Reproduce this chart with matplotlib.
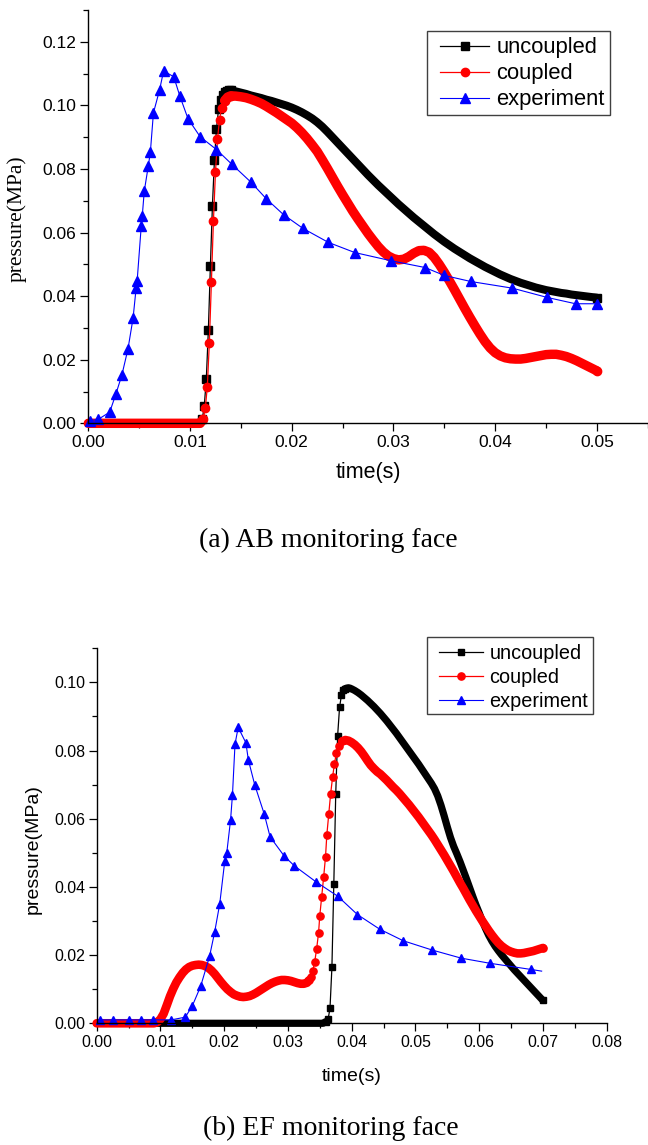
import matplotlib.pyplot as plt
from matplotlib.patches import Rectangle
from matplotlib.ticker import MultipleLocator, FormatStrFormatter

# ---------------- (a) AB monitoring face ----------------
ab_unc_t = [0.0, 0.0005, 0.001, 0.0015, 0.002, 0.0025, 0.003, 0.0035, 0.004, 0.0045, 0.005, 0.0055,
            0.006, 0.0065, 0.007, 0.0075, 0.008, 0.0085, 0.009, 0.0095, 0.01, 0.0105, 0.011,
            0.0112, 0.0114, 0.0116, 0.0118, 0.012, 0.0122, 0.0124, 0.0126, 0.0128, 0.013, 0.0132,
            0.0134, 0.0136, 0.0138, 0.014,
            0.0145, 0.015, 0.0155, 0.016, 0.0165, 0.017, 0.0175, 0.018, 0.0185, 0.019, 0.0195, 0.02,
            0.0205, 0.021, 0.0215, 0.022, 0.0225, 0.023, 0.0235, 0.024, 0.0245, 0.025,
            0.0255, 0.026, 0.0265, 0.027, 0.0275, 0.028, 0.0285, 0.029, 0.0295, 0.03,
            0.0305, 0.031, 0.0315, 0.032, 0.0325, 0.033, 0.0335, 0.034, 0.0345, 0.035,
            0.0355, 0.036, 0.0365, 0.037, 0.0375, 0.038, 0.0385, 0.039, 0.0395, 0.04,
            0.0405, 0.041, 0.0415, 0.042, 0.0425, 0.043, 0.0435, 0.044, 0.0445, 0.045,
            0.0455, 0.046, 0.0465, 0.047, 0.0475, 0.048, 0.0485, 0.049, 0.0495, 0.05]
ab_unc_p = [0.0, 0.0, 0.0, 0.0, 0.0, 0.0, 0.0, 0.0, 0.0, 0.0, 0.0, 0.0,
            0.0, 0.0, 0.0, 0.0, 0.0, 0.0, 0.0, 0.0, 0.0, 0.0, 0.0,
            0.0012, 0.0055, 0.0139, 0.0292, 0.0494, 0.0683, 0.0829, 0.0926, 0.0987, 0.1018, 0.1034,
            0.1042, 0.1046, 0.1048, 0.1047,
            0.1044, 0.1040, 0.1036, 0.1031, 0.1027, 0.1023, 0.1018, 0.1014, 0.1009, 0.1004, 0.0999, 0.0993,
            0.0986, 0.0978, 0.0969, 0.0959, 0.0947, 0.0933, 0.0917, 0.0900, 0.0883, 0.0866,
            0.0849, 0.0832, 0.0815, 0.0798, 0.0781, 0.0765, 0.0749, 0.0734, 0.0719, 0.0704,
            0.0689, 0.0675, 0.0661, 0.0647, 0.0634, 0.0621, 0.0608, 0.0595, 0.0583, 0.0571,
            0.0560, 0.0549, 0.0539, 0.0529, 0.0519, 0.0510, 0.0501, 0.0492, 0.0484, 0.0476,
            0.0468, 0.0461, 0.0454, 0.0448, 0.0442, 0.0437, 0.0432, 0.0427, 0.0423, 0.0419,
            0.0416, 0.0413, 0.0410, 0.0408, 0.0405, 0.0403, 0.0401, 0.0399, 0.0397, 0.0395]

ab_cou_t = [0.0, 0.0005, 0.001, 0.0015, 0.002, 0.0025, 0.003, 0.0035, 0.004, 0.0045, 0.005, 0.0055,
            0.006, 0.0065, 0.007, 0.0075, 0.008, 0.0085, 0.009, 0.0095, 0.01, 0.0105, 0.011,
            0.0113, 0.0115, 0.0117, 0.0119, 0.0121, 0.0123, 0.0125, 0.0127, 0.0129, 0.0131,
            0.0134, 0.0137, 0.014,
            0.0145, 0.015, 0.0155, 0.016, 0.0165, 0.017, 0.0175, 0.018, 0.0185, 0.019, 0.0195, 0.02,
            0.0205, 0.021, 0.0215, 0.022, 0.0225, 0.023, 0.0235, 0.024, 0.0245, 0.025,
            0.0255, 0.026, 0.0265, 0.027, 0.0275, 0.028, 0.0285, 0.029, 0.0295, 0.03,
            0.0305, 0.031, 0.0315, 0.032, 0.0325, 0.033, 0.0335, 0.034, 0.0345, 0.035,
            0.0355, 0.036, 0.0365, 0.037, 0.0375, 0.038, 0.0385, 0.039, 0.0395, 0.04,
            0.0405, 0.041, 0.0415, 0.042, 0.0425, 0.043, 0.0435, 0.044, 0.0445, 0.045,
            0.0455, 0.046, 0.0465, 0.047, 0.0475, 0.048, 0.0485, 0.049, 0.0495, 0.05]
ab_cou_p = [0.0, 0.0, 0.0, 0.0, 0.0, 0.0, 0.0, 0.0, 0.0, 0.0, 0.0, 0.0,
            0.0, 0.0, 0.0, 0.0, 0.0, 0.0, 0.0, 0.0, 0.0, 0.0, 0.0,
            0.0013, 0.0047, 0.0115, 0.0254, 0.0444, 0.0637, 0.0790, 0.0894, 0.0955, 0.0992,
            0.1015, 0.1026, 0.1030,
            0.1029, 0.1027, 0.1024, 0.1019, 0.1013, 0.1006, 0.0997, 0.0987, 0.0977, 0.0966, 0.0955, 0.0944,
            0.0930, 0.0914, 0.0896, 0.0876, 0.0855, 0.0829, 0.0802, 0.0774, 0.0746, 0.0719,
            0.0693, 0.0667, 0.0643, 0.0620, 0.0597, 0.0576, 0.0556, 0.0539, 0.0526, 0.0518,
            0.0514, 0.0516, 0.0524, 0.0535, 0.0543, 0.0544, 0.0538, 0.0522, 0.0500, 0.0475,
            0.0448, 0.0420, 0.0391, 0.0362, 0.0334, 0.0307, 0.0281, 0.0257, 0.0237, 0.0222,
            0.0212, 0.0206, 0.0203, 0.0202, 0.0202, 0.0204, 0.0207, 0.0210, 0.0213, 0.0216,
            0.0217, 0.0217, 0.0214, 0.0210, 0.0204, 0.0197, 0.0189, 0.0181, 0.0173, 0.0165]

ab_exp_t = [0.0002, 0.001, 0.0021, 0.0027, 0.0033, 0.0039, 0.0044, 0.0047, 0.0048, 0.0052, 0.0053,
            0.0055, 0.0059, 0.0061, 0.0064, 0.007, 0.0074, 0.0084, 0.009, 0.0098, 0.011, 0.0126,
            0.0141, 0.016, 0.0175, 0.0192, 0.0211, 0.0236, 0.0262, 0.0298, 0.0331, 0.035, 0.0376,
            0.0417, 0.0451, 0.0479, 0.05]
ab_exp_p = [0.0008, 0.0013, 0.0035, 0.0091, 0.0152, 0.0234, 0.0331, 0.0425, 0.0448, 0.0619, 0.0651,
            0.0730, 0.0810, 0.0853, 0.0976, 0.1048, 0.1108, 0.1090, 0.1029, 0.0958, 0.0901, 0.0861,
            0.0815, 0.0758, 0.0706, 0.0656, 0.0613, 0.0569, 0.0537, 0.0511, 0.0490, 0.0465, 0.0446,
            0.0425, 0.0396, 0.0376, 0.0376]

# ---------------- (b) EF monitoring face ----------------
ef_unc_t = [0.0, 0.0005, 0.001, 0.0015, 0.002, 0.0025, 0.003, 0.0035, 0.004, 0.0045,
            0.005, 0.0055, 0.006, 0.0065, 0.007, 0.0075, 0.008, 0.0085, 0.009, 0.0095,
            0.01, 0.0105, 0.011, 0.0115, 0.012, 0.0125, 0.013, 0.0135, 0.014, 0.0145,
            0.015, 0.0155, 0.016, 0.0165, 0.017, 0.0175, 0.018, 0.0185, 0.019, 0.0195,
            0.02, 0.0205, 0.021, 0.0215, 0.022, 0.0225, 0.023, 0.0235, 0.024, 0.0245,
            0.025, 0.0255, 0.026, 0.0265, 0.027, 0.0275, 0.028, 0.0285, 0.029, 0.0295,
            0.03, 0.0305, 0.031, 0.0315, 0.032, 0.0325, 0.033, 0.0335, 0.034, 0.0345,
            0.035, 0.0355,
            0.036, 0.0363, 0.0366, 0.0369, 0.0372, 0.0375, 0.0378, 0.0381, 0.0384, 0.0387, 0.039, 0.0395,
            0.04, 0.0405, 0.041, 0.0415, 0.042, 0.0425, 0.043, 0.0435, 0.044, 0.0445,
            0.045, 0.0455, 0.046, 0.0465, 0.047, 0.0475, 0.048, 0.0485, 0.049, 0.0495,
            0.05, 0.0505, 0.051, 0.0515, 0.052, 0.0525, 0.053, 0.0535, 0.054, 0.0545,
            0.055, 0.0555, 0.056, 0.0565, 0.057, 0.0575, 0.058, 0.0585, 0.059, 0.0595,
            0.06, 0.0605, 0.061, 0.0615, 0.062, 0.0625, 0.063, 0.0635, 0.064, 0.0645,
            0.065, 0.0655, 0.066, 0.0665, 0.067, 0.0675, 0.068, 0.0685, 0.069, 0.0695, 0.07]
ef_unc_p = [0.0, 0.0, 0.0, 0.0, 0.0, 0.0, 0.0, 0.0, 0.0, 0.0,
            0.0, 0.0, 0.0, 0.0, 0.0, 0.0, 0.0, 0.0, 0.0, 0.0,
            0.0, 0.0, 0.0, 0.0, 0.0, 0.0, 0.0, 0.0, 0.0, 0.0,
            0.0, 0.0, 0.0, 0.0, 0.0, 0.0, 0.0, 0.0, 0.0, 0.0,
            0.0, 0.0, 0.0, 0.0, 0.0, 0.0, 0.0, 0.0, 0.0, 0.0,
            0.0, 0.0, 0.0, 0.0, 0.0, 0.0, 0.0, 0.0, 0.0, 0.0,
            0.0, 0.0, 0.0, 0.0, 0.0, 0.0, 0.0, 0.0, 0.0, 0.0,
            0.0, 0.0,
            0.0005, 0.0012, 0.0044, 0.0164, 0.0410, 0.0673, 0.0844, 0.0927, 0.0963, 0.0977, 0.0982, 0.0984,
            0.0981, 0.0976, 0.0970, 0.0963, 0.0955, 0.0947, 0.0938, 0.0929, 0.0919, 0.0909,
            0.0898, 0.0887, 0.0875, 0.0863, 0.0851, 0.0838, 0.0825, 0.0812, 0.0799, 0.0786,
            0.0773, 0.0760, 0.0746, 0.0732, 0.0718, 0.0704, 0.0688, 0.0667, 0.0640, 0.0609,
            0.0576, 0.0545, 0.0519, 0.0497, 0.0474, 0.0449, 0.0424, 0.0398, 0.0372, 0.0347,
            0.0324, 0.0300, 0.0278, 0.0258, 0.0241, 0.0226, 0.0213, 0.0201, 0.0190, 0.0179,
            0.0168, 0.0157, 0.0147, 0.0137, 0.0127, 0.0117, 0.0107, 0.0097, 0.0087, 0.0077, 0.0067]

ef_cou_t = [0.0, 0.0005, 0.001, 0.0015, 0.002, 0.0025, 0.003, 0.0035, 0.004, 0.0045,
            0.005, 0.0055, 0.006, 0.0065, 0.007, 0.0075, 0.008, 0.0085, 0.009,
            0.0095, 0.01, 0.0105, 0.011, 0.0115, 0.012, 0.0125, 0.013, 0.0135, 0.014,
            0.0145, 0.015, 0.0155, 0.016, 0.0165, 0.017, 0.0175, 0.018, 0.0185, 0.019,
            0.0195, 0.02, 0.0205, 0.021, 0.0215, 0.022, 0.0225, 0.023, 0.0235, 0.024,
            0.0245, 0.025, 0.0255, 0.026, 0.0265, 0.027, 0.0275, 0.028, 0.0285, 0.029,
            0.0295, 0.03, 0.0305, 0.031, 0.0315, 0.032, 0.0325, 0.033,
            0.0333, 0.0336, 0.0339, 0.0342, 0.0345, 0.0348, 0.035, 0.0353, 0.0356, 0.0359,
            0.0361, 0.0364, 0.0367, 0.037, 0.0373, 0.0376, 0.038, 0.0385,
            0.039, 0.0395, 0.04, 0.0405, 0.041, 0.0415, 0.042, 0.0425, 0.043, 0.0435,
            0.044, 0.0445, 0.045, 0.0455, 0.046, 0.0465, 0.047, 0.0475, 0.048, 0.0485,
            0.049, 0.0495, 0.05, 0.0505, 0.051, 0.0515, 0.052, 0.0525, 0.053, 0.0535,
            0.054, 0.0545, 0.055, 0.0555, 0.056, 0.0565, 0.057, 0.0575, 0.058, 0.0585,
            0.059, 0.0595, 0.06, 0.0605, 0.061, 0.0615, 0.062, 0.0625, 0.063, 0.0635,
            0.064, 0.0645, 0.065, 0.0655, 0.066, 0.0665, 0.067, 0.0675, 0.068, 0.0685,
            0.069, 0.0695, 0.07]
ef_cou_p = [0.0, 0.0, 0.0, 0.0, 0.0, 0.0, 0.0, 0.0, 0.0, 0.0,
            0.0, 0.0, 0.0, 0.0, 0.0, 0.0, 0.0, 0.0, 0.0,
            0.0003, 0.0012, 0.0028, 0.0053, 0.0079, 0.0101, 0.0120, 0.0135, 0.0148, 0.0158,
            0.0165, 0.0169, 0.0171, 0.0172, 0.0171, 0.0168, 0.0163, 0.0155, 0.0145, 0.0133,
            0.0121, 0.0110, 0.0100, 0.0092, 0.0085, 0.0081, 0.0078, 0.0077, 0.0078, 0.0080,
            0.0084, 0.0089, 0.0095, 0.0101, 0.0107, 0.0113, 0.0118, 0.0122, 0.0125, 0.0127,
            0.0127, 0.0126, 0.0124, 0.0121, 0.0118, 0.0116, 0.0116, 0.0119,
            0.0126, 0.0137, 0.0154, 0.0180, 0.0218, 0.0264, 0.0316, 0.0371, 0.0428, 0.0489,
            0.0552, 0.0613, 0.0673, 0.0721, 0.0762, 0.0792, 0.0814, 0.0827,
            0.0831, 0.0829, 0.0824, 0.0817, 0.0808, 0.0797, 0.0784, 0.0770, 0.0757, 0.0747,
            0.0738, 0.0731, 0.0722, 0.0713, 0.0703, 0.0693, 0.0684, 0.0674, 0.0663, 0.0652,
            0.0641, 0.0629, 0.0617, 0.0605, 0.0592, 0.0579, 0.0566, 0.0553, 0.0539, 0.0524,
            0.0509, 0.0494, 0.0478, 0.0462, 0.0446, 0.0429, 0.0412, 0.0396, 0.0379, 0.0362,
            0.0346, 0.0330, 0.0315, 0.0300, 0.0286, 0.0272, 0.0259, 0.0247, 0.0236, 0.0227,
            0.0220, 0.0214, 0.0210, 0.0207, 0.0205, 0.0205, 0.0206, 0.0208, 0.0210, 0.0212,
            0.0215, 0.0218, 0.0221]

ef_exp_t = [0.0005, 0.0025, 0.0051, 0.007, 0.0089, 0.0117, 0.0139, 0.015, 0.0163, 0.0177, 0.0185,
            0.0193, 0.0201, 0.0204, 0.021, 0.0213, 0.0217, 0.0222, 0.0234, 0.0238, 0.0248, 0.0263,
            0.0272, 0.0294, 0.031, 0.0344, 0.0378, 0.0409, 0.0444, 0.0481, 0.0526, 0.0572, 0.0617,
            0.0681, 0.0698]
ef_exp_p = [0.001, 0.001, 0.001, 0.001, 0.001, 0.001, 0.0018, 0.0051, 0.0108, 0.0196, 0.0267,
            0.0350, 0.0477, 0.0499, 0.0596, 0.0670, 0.0819, 0.0868, 0.0823, 0.0772, 0.0699, 0.0613,
            0.0547, 0.0491, 0.0462, 0.0415, 0.0373, 0.0319, 0.0276, 0.0242, 0.0215, 0.0191, 0.0176,
            0.0158, 0.0153]

plt.rcParams['font.family'] = ['Liberation Sans', 'DejaVu Sans']

fig = plt.figure(figsize=(6.48, 11.45), dpi=100)
ax1 = fig.add_axes([0.1363, 0.6303, 0.8633, 0.361])
ax2 = fig.add_axes([0.1492, 0.1063, 0.787, 0.3275])


def style_axes(ax, fs):
    ax.spines['top'].set_visible(False)
    ax.spines['right'].set_visible(False)
    ax.spines['left'].set_linewidth(1.0)
    ax.spines['bottom'].set_linewidth(1.0)
    ax.tick_params(which='major', direction='out', length=5.5, width=0.9, labelsize=fs, pad=3)
    ax.tick_params(which='minor', direction='out', length=3.5, width=0.9)
    ax.xaxis.set_major_formatter(FormatStrFormatter('%.2f'))
    ax.yaxis.set_major_formatter(FormatStrFormatter('%.2f'))


def dense(ax, t, p, color, marker, ms, band_lw, bands, rise, label):
    # densely sampled series: where points sit close together the markers merge into a band,
    # only the steep rise shows separate markers on a thin line
    for i0, i1 in bands:
        ax.plot(t[i0:i1], p[i0:i1], color=color, lw=band_lw, solid_capstyle='round',
                solid_joinstyle='round', clip_on=False)
    every = list(range(rise[0], rise[1])) + [len(t) - 1]
    ax.plot(t, p, color=color, marker=marker, ms=ms, lw=0.9, markevery=every, label=label,
            clip_on=False)


# top panel
dense(ax1, ab_unc_t, ab_unc_p, 'black', 's', 5.3, 5.8, [(0, 24), (36, None)], (23, 38), 'uncoupled')
dense(ax1, ab_cou_t, ab_cou_p, 'red', 'o', 6.0, 6.8, [(0, 24), (33, None)], (23, 36), 'coupled')
ax1.plot(ab_exp_t, ab_exp_p, color='blue', marker='^', ms=7, lw=0.8, label='experiment', clip_on=False)
ax1.set_xlim(0, 0.055)
ax1.set_ylim(0, 0.13)
ax1.xaxis.set_major_locator(MultipleLocator(0.01))
ax1.xaxis.set_minor_locator(MultipleLocator(0.005))
ax1.yaxis.set_major_locator(MultipleLocator(0.02))
ax1.yaxis.set_minor_locator(MultipleLocator(0.01))
style_axes(ax1, 12.5)
ax1.set_xlabel('time(s)', fontsize=15.5)
ax1.xaxis.set_label_coords(0.5, -0.093)
ax1.set_ylabel('pressure(MPa)', fontsize=15.5, family='Liberation Serif')
ax1.yaxis.set_label_coords(-0.11, 0.494)
ax1.legend(loc='upper left', bbox_to_anchor=(440 / 648, 1 - 37.3 / 1145), bbox_transform=fig.transFigure,
           fontsize=15.8, numpoints=1, frameon=False, handlelength=2.24, handletextpad=0.32,
           labelspacing=0.23, borderpad=0, borderaxespad=0)
fig.add_artist(Rectangle((427.3 / 648, 1 - 115 / 1145), 182.7 / 648, 84.3 / 1145,
                         transform=fig.transFigure, fill=False, edgecolor='#404040', lw=1.0))

# bottom panel
dense(ax2, ef_unc_t, ef_unc_p, 'black', 's', 4.5, 5.2, [(0, 73), (81, None)], (72, 84), 'uncoupled')
dense(ax2, ef_cou_t, ef_cou_p, 'red', 'o', 5.2, 6.2, [(0, 68), (84, None)], (67, 85), 'coupled')
ax2.plot(ef_exp_t, ef_exp_p, color='blue', marker='^', ms=6.2, lw=0.8, label='experiment',
         markevery=list(range(len(ef_exp_t) - 1)), clip_on=False)
ax2.set_xlim(0, 0.08)
ax2.set_ylim(0, 0.11)
ax2.xaxis.set_major_locator(MultipleLocator(0.01))
ax2.xaxis.set_minor_locator(MultipleLocator(0.005))
ax2.yaxis.set_major_locator(MultipleLocator(0.02))
ax2.yaxis.set_minor_locator(MultipleLocator(0.01))
style_axes(ax2, 11.4)
ax2.set_xlabel('time(s)', fontsize=14)
ax2.xaxis.set_label_coords(0.5, -0.12)
ax2.set_ylabel('pressure(MPa)', fontsize=14)
ax2.yaxis.set_label_coords(-0.107, 0.465)
ax2.legend(loc='upper left', bbox_to_anchor=(439 / 648, 1 - 644.4 / 1145), bbox_transform=fig.transFigure,
           fontsize=14.3, numpoints=1, frameon=False, handlelength=2.24, handletextpad=0.3,
           labelspacing=0.23, borderpad=0, borderaxespad=0)
fig.add_artist(Rectangle((426.7 / 648, 1 - 714.3 / 1145), 166.6 / 648, 77 / 1145,
                         transform=fig.transFigure, fill=False, edgecolor='#404040', lw=1.0))

# captions
fig.text(0.506, 1 - 540 / 1145, '(a) AB monitoring face', ha='center', va='center',
         fontsize=20, family='Liberation Serif')
fig.text(0.511, 1 - 1128 / 1145, '(b) EF monitoring face', ha='center', va='center',
         fontsize=20, family='Liberation Serif')

fig.savefig('out.png', dpi=100)
